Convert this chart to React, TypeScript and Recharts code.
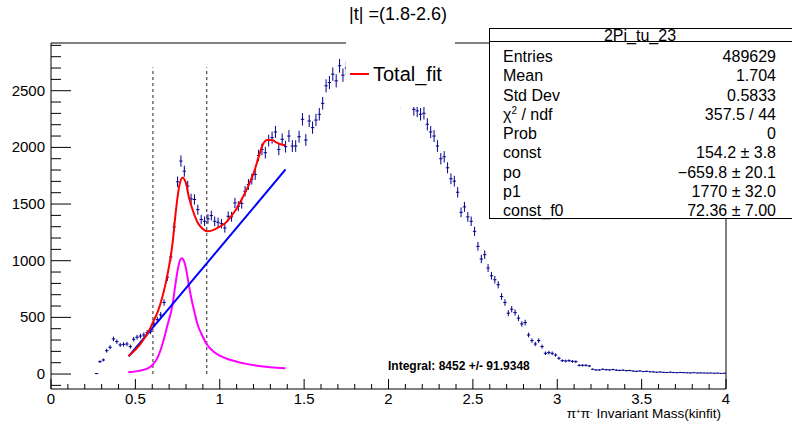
import React from 'react'
import {
  ComposedChart,
  Scatter,
  ErrorBar,
  Line,
  XAxis,
  YAxis,
  ReferenceLine,
  ReferenceArea,
} from 'recharts'

// histogram: 0.02 wide bins, first filled bin starts at 0.26
const binLow = 0.26
const binWidth = 0.02

const counts = [
  4, 109, 124, 206, 236, 310, 286, 257, 262, 265, 242, 307, 325, 335, 345, 366, 374, 442, 480, 522,
  631, 855, 1033, 1298, 1696, 1879, 1790, 1658, 1546, 1540, 1451, 1363, 1348, 1369, 1398, 1348, 1339, 1327, 1289, 1392,
  1387, 1510, 1480, 1505, 1613, 1673, 1720, 1761, 1929, 1982, 1953, 2060, 2086, 2136, 1982, 2071, 2006, 2100, 2012, 2012,
  2094, 2248, 2065, 2233, 2174, 2241, 2292, 2389, 2543, 2572, 2646, 2587, 2720, 2637, 2700, 2760, 2740, 2780, 2760, 2770,
  2740, 2750, 2720, 2700, 2660, 2640, 2600, 2560, 2520, 2480, 2410, 2415, 2450, 2440, 2336, 2322, 2292, 2301, 2204, 2136,
  2100, 2012, 1900, 1917, 1820, 1723, 1702, 1604, 1427, 1475, 1387, 1348, 1259, 1127, 1015, 1053, 935, 867, 832, 788,
  684, 631, 537, 572, 542, 493, 442, 454, 345, 295, 265, 295, 242, 183, 189, 183, 168, 139, 118, 115,
  118, 112, 109, 77, 77, 77, 71, 42, 36, 36, 42, 38, 36, 40, 34, 32, 34, 30, 31, 26,
  24, 27, 22, 24, 20, 19, 16, 18, 15, 14, 16, 13, 12, 14, 12, 11, 10, 12, 9, 10,
  9, 8, 9, 7, 8, 6, 7,
]

const errors = [
  2, 12, 13, 17, 18, 20, 19, 18, 19, 19, 18, 20, 21, 21, 21, 22, 22, 24, 25, 26,
  29, 34, 37, 41, 47, 50, 49, 47, 45, 45, 44, 42, 42, 43, 43, 42, 42, 42, 41, 43,
  43, 45, 44, 45, 46, 47, 48, 48, 51, 51, 51, 52, 53, 53, 51, 52, 52, 53, 52, 52,
  53, 55, 52, 54, 54, 54, 55, 56, 58, 58, 59, 58, 60, 59, 60, 60, 60, 61, 60, 61,
  60, 60, 60, 60, 59, 59, 59, 58, 58, 57, 56, 57, 57, 57, 56, 55, 55, 55, 54, 53,
  53, 52, 50, 50, 49, 48, 47, 46, 43, 44, 43, 42, 41, 39, 37, 37, 35, 34, 33, 32,
  30, 29, 27, 28, 27, 26, 24, 25, 21, 20, 19, 20, 18, 16, 16, 16, 15, 14, 12, 12,
  12, 12, 12, 10, 10, 10, 10, 7, 7, 7, 7, 7, 7, 7, 7, 6, 7, 6, 6, 6,
  6, 6, 5, 6, 5, 5, 5, 5, 4, 4, 5, 4, 4, 4, 4, 4, 4, 4, 3, 4,
  3, 3, 3, 3, 3, 3, 3,
]

// fit curves: [mass, value]
const totalFit = [
  [0.46, 159], [0.53, 265], [0.59, 410], [0.605, 460], [0.63, 540], [0.66, 680], [0.69, 875],
  [0.72, 1150], [0.74, 1440], [0.76, 1658], [0.779, 1732], [0.799, 1688], [0.818, 1555],
  [0.842, 1436], [0.868, 1339], [0.898, 1281], [0.927, 1259], [0.957, 1268], [0.996, 1298],
  [1.036, 1336], [1.075, 1407], [1.1, 1460], [1.124, 1525], [1.164, 1643], [1.203, 1781],
  [1.233, 1929], [1.256, 2027], [1.282, 2065], [1.308, 2065], [1.331, 2047], [1.361, 2027], [1.39, 2018],
]
const background = [[0.46, 155], [1.39, 1805]]
const rhoPeak = [
  [0.458, 15], [0.52, 28], [0.57, 48], [0.6, 78], [0.63, 140], [0.66, 260], [0.69, 430],
  [0.72, 610], [0.74, 820], [0.755, 950], [0.765, 1005], [0.775, 1022], [0.79, 990],
  [0.8, 930], [0.815, 800], [0.83, 680], [0.848, 560], [0.87, 430], [0.89, 360], [0.92, 270],
  [0.97, 190], [1.01, 155], [1.05, 130], [1.1, 110], [1.15, 92], [1.22, 74], [1.3, 60], [1.39, 50],
]
const cutLines = [0.604, 0.923]
const cutTop = 2705

const xTicks = [
  0, 0.1, 0.2, 0.3, 0.4, 0.5, 0.6, 0.7, 0.8, 0.9, 1, 1.1, 1.2, 1.3, 1.4, 1.5, 1.6, 1.7, 1.8, 1.9,
  2, 2.1, 2.2, 2.3, 2.4, 2.5, 2.6, 2.7, 2.8, 2.9, 3, 3.1, 3.2, 3.3, 3.4, 3.5, 3.6, 3.7, 3.8, 3.9, 4,
]
const yTicks = [
  -100, 0, 100, 200, 300, 400, 500, 600, 700, 800, 900, 1000, 1100, 1200, 1300, 1400, 1500,
  1600, 1700, 1800, 1900, 2000, 2100, 2200, 2300, 2400, 2500, 2600, 2700, 2800, 2900,
]
const xMajor = [0, 0.5, 1, 1.5, 2, 2.5, 3, 3.5, 4]
const yMajor = [0, 500, 1000, 1500, 2000, 2500]

const statRows = [
  ['Entries', '489629'],
  ['Mean', '1.704'],
  ['Std Dev', '0.5833'],
  ['chi2', '357.5 / 44'],
  ['Prob', '0'],
  ['const', '154.2 \u00b1 3.8'],
  ['po', '\u2212659.8 \u00b1 20.1'],
  ['p1', '1770 \u00b1 32.0'],
  ['const_f0', '72.36 \u00b1 7.00'],
]

const xDomain = [0, 4]
const yDomain = [-132, 2921]
const font = '"Liberation Sans", Arial, Helvetica, sans-serif'

const histData = counts.map((c, i) => ({
  x: binLow + (i + 0.5) * binWidth,
  y: c,
  ey: errors[i] ?? 0,
  ex: binWidth / 2,
}))
const toPts = (arr: number[][]) => arr.map(([x, y]) => ({ x, y }))

const supStyle = (size: number, lift: number): React.CSSProperties => ({
  fontSize: size,
  lineHeight: 0,
  position: 'relative',
  top: -lift,
})

function YTick(props: any) {
  const { x, y, payload } = props
  const v = payload.value
  const major = yMajor.includes(v)
  return (
    <g>
      <line x1={x} x2={x + (major ? 20 : 10)} y1={y} y2={y} stroke="#000" />
      {major && (
        <text x={x - 6} y={y + 5} textAnchor="end" fontSize={15} fontFamily={font} fill="#000">
          {v}
        </text>
      )}
    </g>
  )
}

function XTick(props: any) {
  const { x, y, payload } = props
  const v = payload.value
  const major = xMajor.includes(v)
  return (
    <g>
      <line x1={x} x2={x} y1={y} y2={y - (major ? 10 : 5)} stroke="#000" />
      {major && (
        <text x={x} y={y + 15} textAnchor="middle" fontSize={15} fontFamily={font} fill="#000">
          {v}
        </text>
      )}
    </g>
  )
}

export default function App() {
  return (
    <div
      style={{
        position: 'absolute',
        left: 0,
        top: 0,
        width: 792,
        height: 423,
        overflow: 'hidden',
        background: '#fff',
        fontFamily: font,
      }}
    >
      <ComposedChart width={792} height={423} margin={{ top: 43, right: 66, bottom: 4, left: 11 }}>
        <XAxis
          type="number"
          dataKey="x"
          domain={xDomain}
          allowDataOverflow
          ticks={xTicks}
          interval={0}
          tickSize={0}
          tickMargin={0}
          height={30}
          axisLine={false}
          tick={<XTick />}
        />
        <YAxis
          type="number"
          dataKey="y"
          domain={yDomain}
          allowDataOverflow
          ticks={yTicks}
          interval={0}
          tickSize={0}
          tickMargin={0}
          width={40}
          axisLine={false}
          tick={<YTick />}
        />
        <ReferenceArea
          x1={xDomain[0]}
          x2={xDomain[1]}
          y1={yDomain[0]}
          y2={yDomain[1]}
          fill="#fff"
          fillOpacity={0}
          stroke="#000"
          strokeWidth={1}
        />
        {cutLines.map((c) => (
          <ReferenceLine
            key={c}
            segment={[{ x: c, y: 0 }, { x: c, y: cutTop }]}
            stroke="#222"
            strokeDasharray="3 3"
          />
        ))}
        <Scatter data={histData} dataKey="y" isAnimationActive={false} shape={() => <g />}>
          <ErrorBar dataKey="ey" direction="y" width={0} stroke="#00008b" strokeWidth={1} />
          <ErrorBar dataKey="ex" direction="x" width={0} stroke="#00008b" strokeWidth={1} />
        </Scatter>
        <Line data={toPts(rhoPeak)} dataKey="y" type="monotone" stroke="#ff00ff" strokeWidth={2} dot={false} isAnimationActive={false} />
        <Line data={toPts(background)} dataKey="y" type="linear" stroke="#0000ff" strokeWidth={2} dot={false} isAnimationActive={false} />
        <Line data={toPts(totalFit)} dataKey="y" type="monotone" stroke="#ff0000" strokeWidth={2} dot={false} isAnimationActive={false} />
      </ComposedChart>

      {/* title + legend box (white, hides the data beneath like in ROOT) */}
      <div style={{ position: 'absolute', left: 346, top: 0, width: 109, height: 107, background: '#fff' }} />
      <div style={{ position: 'absolute', left: 298, top: 3, width: 200, textAlign: 'center', fontSize: 18, lineHeight: '22px' }}>
        |t| =(1.8-2.6)
      </div>
      <div style={{ position: 'absolute', left: 350, top: 73, width: 19, height: 2, background: '#ff0000' }} />
      <div style={{ position: 'absolute', left: 373, top: 62, fontSize: 20, lineHeight: '24px' }}>Total_fit</div>

      {/* stats box */}
      <div
        style={{
          position: 'absolute',
          left: 489,
          top: 28,
          width: 304,
          height: 191,
          boxSizing: 'border-box',
          border: '1px solid #000',
          background: '#fff',
          fontSize: 16,
        }}
      >
        <div style={{ position: 'absolute', left: 0, right: 0, top: -3, textAlign: 'center', lineHeight: '20px', paddingRight: 2 }}>
          2Pi_tu_23
        </div>
        <div style={{ position: 'absolute', left: 0, right: 0, top: 12, borderTop: '1px solid #000' }} />
        {statRows.map(([k, v], i) => (
          <div
            key={k}
            style={{
              position: 'absolute',
              left: 13,
              right: 16,
              top: 18 + i * 19.25,
              height: 20,
              lineHeight: '20px',
              display: 'flex',
              justifyContent: 'space-between',
            }}
          >
            <span>
              {k === 'chi2' ? (
                <>
                  {'\u03c7'}
                  <span style={supStyle(10, 6)}>2</span>
                  {' / ndf'}
                </>
              ) : (
                k
              )}
            </span>
            <span>{v}</span>
          </div>
        ))}
      </div>

      <div style={{ position: 'absolute', left: 388, top: 359, fontSize: 12, fontWeight: 'bold', lineHeight: '15px' }}>
        Integral: 8452 +/- 91.9348
      </div>
      <div style={{ position: 'absolute', right: 792 - 721, top: 406, fontSize: 13.5, lineHeight: '15px', whiteSpace: 'nowrap' }}>
        {'\u03c0'}
        <span style={supStyle(8, 4)}>+</span>
        {'\u03c0'}
        <span style={supStyle(8, 4)}>-</span> Invariant Mass(kinfit)
      </div>
    </div>
  )
}
